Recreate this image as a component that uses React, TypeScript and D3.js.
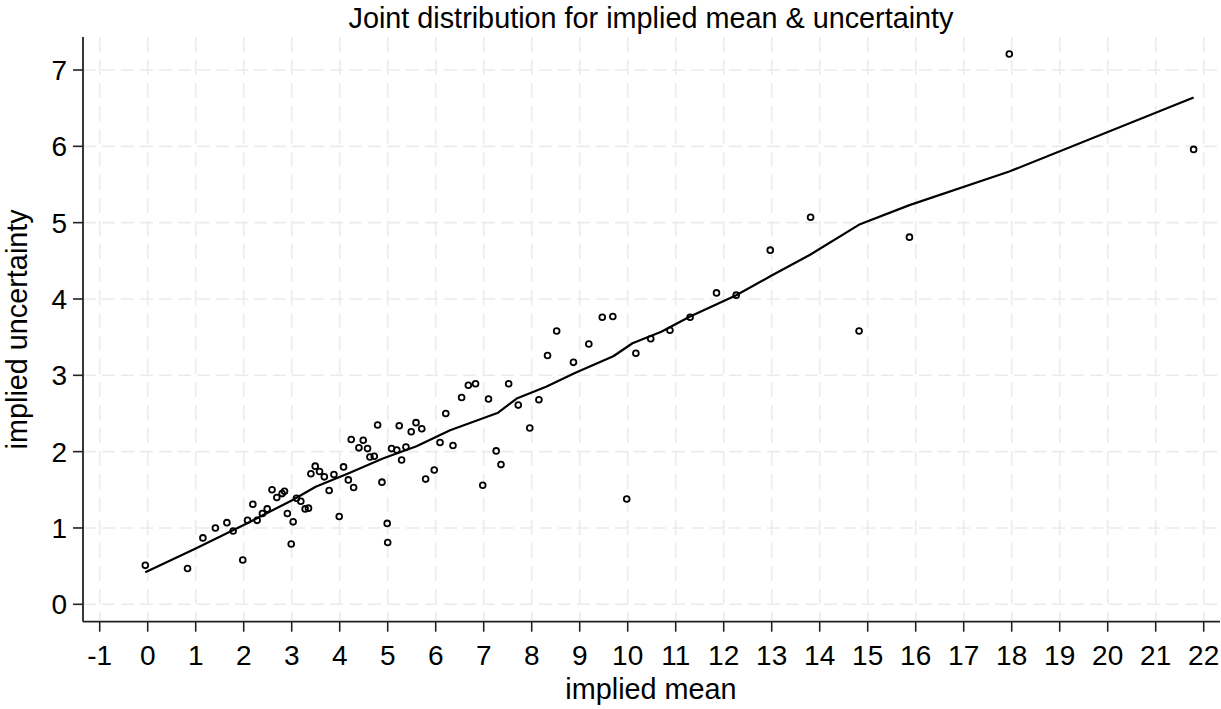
import { useMemo } from "react";
import { line, scaleLinear } from "d3";

const WIDTH = 1221;
const HEIGHT = 709;
const LEFT = 83;
const RIGHT = 1220;
const TOP = 37;
const BOTTOM = 621.7;

const meanValues = [
  -0.05, 0.83, 1.15, 1.41, 1.65, 1.78, 1.98, 2.08, 2.19, 2.28, 2.39, 2.49, 2.59, 2.69, 2.8, 2.85, 2.91, 2.99,
  3.03, 3.1, 3.19, 3.28, 3.35, 3.4, 3.49, 3.58, 3.68, 3.78, 3.88, 3.99, 4.08, 4.18, 4.24, 4.29, 4.4, 4.49,
  4.58, 4.63, 4.72, 4.79, 4.88, 4.99, 5.0, 5.08, 5.19, 5.24, 5.29, 5.38, 5.49, 5.59, 5.71, 5.79, 5.97, 6.09,
  6.21, 6.36, 6.54, 6.68, 6.83, 6.98, 7.1, 7.26, 7.36, 7.52, 7.72, 7.96, 8.15, 8.33, 8.52, 8.87, 9.19, 9.47,
  9.69, 9.98, 10.17, 10.48, 10.88, 11.3, 11.85, 12.26, 12.97, 13.81, 14.82, 15.87, 17.95, 21.79,
];
const uncertaintyValues = [
  0.51, 0.47, 0.87, 1.0, 1.07, 0.96, 0.58, 1.1, 1.31, 1.1, 1.19, 1.25, 1.5, 1.4, 1.45, 1.48, 1.19, 0.79,
  1.08, 1.39, 1.35, 1.25, 1.26, 1.71, 1.81, 1.74, 1.67, 1.49, 1.7, 1.15, 1.8, 1.63, 2.16, 1.53, 2.05, 2.15,
  2.04, 1.93, 1.94, 2.35, 1.6, 1.06, 0.81, 2.04, 2.02, 2.34, 1.89, 2.06, 2.26, 2.38, 2.3, 1.64, 1.76, 2.12,
  2.5, 2.08, 2.71, 2.87, 2.89, 1.56, 2.69, 2.01, 1.83, 2.89, 2.61, 2.31, 2.68, 3.26, 3.58, 3.17, 3.41, 3.76,
  3.77, 1.38, 3.29, 3.48, 3.59, 3.76, 4.08, 4.05, 4.64, 5.07, 3.58, 4.81, 7.21, 5.96,
];

// lowess fit
const fitMean = [-0.05, 1, 2, 3, 3.5, 4.2, 4.9, 5.6, 6.3, 7.0, 7.3, 7.7, 8.3, 8.9, 9.7, 10.1, 10.7, 11.3, 12.26, 12.98, 13.8, 14.84, 15.87, 17.95, 21.79];
const fitUncertainty = [0.42, 0.73, 1.04, 1.36, 1.54, 1.72, 1.91, 2.07, 2.28, 2.44, 2.51, 2.7, 2.85, 3.03, 3.25, 3.42, 3.57, 3.77, 4.05, 4.3, 4.58, 4.98, 5.23, 5.67, 6.64];

const xTicks = [-1, 0, 1, 2, 3, 4, 5, 6, 7, 8, 9, 10, 11, 12, 13, 14, 15, 16, 17, 18, 19, 20, 21, 22];
const yTicks = [0, 1, 2, 3, 4, 5, 6, 7];

const FONT = "'Liberation Sans', Arial, Helvetica, sans-serif";
const GRID = "#ebebeb";

export default function App() {
  const x = useMemo(() => scaleLinear().domain([0, 22]).range([147.7, 1203.7]), []);
  const y = useMemo(() => scaleLinear().domain([0, 7]).range([604.3, 70]), []);
  const fitPath = useMemo(
    () => line<number>().x((d) => x(d)).y((_, i) => y(fitUncertainty[i]))(fitMean),
    [x, y]
  );

  return (
    <div style={{ position: "absolute", left: 0, top: 0 }}>
      <svg width={WIDTH} height={HEIGHT} viewBox={`0 0 ${WIDTH} ${HEIGHT}`} style={{ display: "block", background: "#fff" }} fontFamily={FONT}>
        {yTicks.map((t) => (
          <line key={`gy${t}`} x1={LEFT} x2={WIDTH} y1={y(t)} y2={y(t)} stroke={GRID} strokeWidth={1.6} strokeDasharray="13 6" />
        ))}
        {xTicks.map((t) => (
          <line key={`gx${t}`} x1={x(t)} x2={x(t)} y1={TOP} y2={BOTTOM} stroke={GRID} strokeWidth={1.6} strokeDasharray="15 8" />
        ))}

        {fitPath ? <path d={fitPath} fill="none" stroke="#000" strokeWidth={2.2} strokeLinejoin="round" /> : null}

        {meanValues.map((m, i) => (
          <circle key={i} cx={x(m)} cy={y(uncertaintyValues[i])} r={2.9} fill="none" stroke="#000" strokeWidth={1.8} />
        ))}

        <line x1={LEFT} x2={LEFT} y1={TOP} y2={BOTTOM} stroke="#222" strokeWidth={1.8} />
        <line x1={LEFT} x2={RIGHT} y1={BOTTOM} y2={BOTTOM} stroke="#222" strokeWidth={1.8} />

        {yTicks.map((t) => (
          <g key={`ty${t}`}>
            <line x1={LEFT - 10} x2={LEFT} y1={y(t)} y2={y(t)} stroke="#222" strokeWidth={1.6} />
            <text x={LEFT - 16} y={y(t)} dy="0.36em" textAnchor="end" fontSize={28}>
              {t}
            </text>
          </g>
        ))}
        {xTicks.map((t) => (
          <g key={`tx${t}`}>
            <line x1={x(t)} x2={x(t)} y1={BOTTOM} y2={BOTTOM + 10} stroke="#222" strokeWidth={1.6} />
            <text x={x(t)} y={665} textAnchor="middle" fontSize={28}>
              {t}
            </text>
          </g>
        ))}

        <text x={651} y={27.5} textAnchor="middle" fontSize={28.8}>
          Joint distribution for implied mean &amp; uncertainty
        </text>
        <text x={651} y={699} textAnchor="middle" fontSize={28.8}>
          implied mean
        </text>
        <text transform={`translate(27, ${(TOP + BOTTOM) / 2}) rotate(-90)`} textAnchor="middle" fontSize={28.8}>
          implied uncertainty
        </text>
      </svg>
    </div>
  );
}
